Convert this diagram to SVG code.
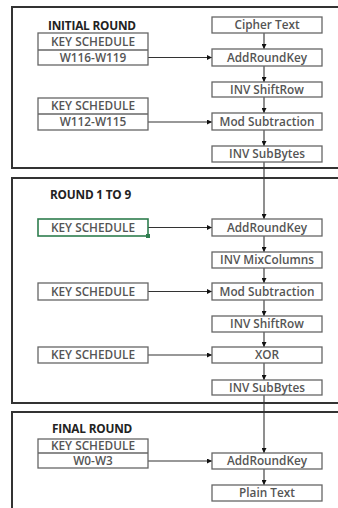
<svg xmlns="http://www.w3.org/2000/svg" width="338" height="508" viewBox="0 0 338 508">
<defs>
<style>
.frame{fill:none;stroke:#333;stroke-width:2}
.box{fill:#fff;stroke:#666;stroke-width:1.3}
.txt{font-family:"Open Sans","Liberation Sans",sans-serif;font-size:11.8px;font-weight:600;fill:#555;text-anchor:middle}
.title{font-family:"Open Sans","Liberation Sans",sans-serif;font-size:11.8px;font-weight:700;fill:#222;letter-spacing:-0.2px}
.conn{fill:none;stroke:#333;stroke-width:1.1}
</style>
<marker id="ah" viewBox="0 0 6 6" refX="6" refY="3" markerWidth="5" markerHeight="5" orient="auto" markerUnits="userSpaceOnUse">
<path d="M0,0 L6,3 L0,6 Z" fill="#111"/>
</marker>
</defs>
<rect width="338" height="508" fill="#fff"/>
<g id="frames">
<path class="frame" d="M345,7 H12 V168 H345"/>
<path class="frame" d="M345,178 H12 V403 H345"/>
<path class="frame" d="M345,412 H12 V515"/>
</g>
<g id="titles">
<text class="title" x="48" y="30">INITIAL ROUND</text>
<text class="title" x="50" y="199">ROUND 1 TO 9</text>
<text class="title" x="52" y="433">FINAL ROUND</text>
</g>
<g id="connectors">
<line class="conn" x1="264" y1="33" x2="264" y2="49" marker-end="url(#ah)"/>
<line class="conn" x1="264" y1="66" x2="264" y2="82" marker-end="url(#ah)"/>
<line class="conn" x1="264" y1="97" x2="264" y2="113" marker-end="url(#ah)"/>
<line class="conn" x1="264" y1="130" x2="264" y2="146" marker-end="url(#ah)"/>
<line class="conn" x1="264" y1="162" x2="264" y2="219" marker-end="url(#ah)"/>
<line class="conn" x1="264" y1="236" x2="264" y2="252" marker-end="url(#ah)"/>
<line class="conn" x1="264" y1="268" x2="264" y2="283" marker-end="url(#ah)"/>
<line class="conn" x1="264" y1="300" x2="264" y2="316" marker-end="url(#ah)"/>
<line class="conn" x1="264" y1="332" x2="264" y2="347" marker-end="url(#ah)"/>
<line class="conn" x1="264" y1="363" x2="264" y2="380" marker-end="url(#ah)"/>
<line class="conn" x1="264" y1="395" x2="264" y2="453" marker-end="url(#ah)"/>
<line class="conn" x1="264" y1="469" x2="264" y2="485" marker-end="url(#ah)"/>
<line class="conn" x1="148" y1="57.5" x2="212" y2="57.5" marker-end="url(#ah)"/>
<line class="conn" x1="148" y1="122" x2="212" y2="122" marker-end="url(#ah)"/>
<line class="conn" x1="148" y1="227.5" x2="212" y2="227.5" marker-end="url(#ah)"/>
<line class="conn" x1="148" y1="291.5" x2="212" y2="291.5" marker-end="url(#ah)"/>
<line class="conn" x1="148" y1="355" x2="212" y2="355" marker-end="url(#ah)"/>
<line class="conn" x1="148" y1="461" x2="212" y2="461" marker-end="url(#ah)"/>
</g>
<g id="cipher-text"><rect class="box" x="212" y="17" width="110" height="16"/><text class="txt" x="267" y="29.2">Cipher Text</text></g>
<g id="addroundkey-1"><rect class="box" x="212" y="49" width="110" height="17"/><text class="txt" x="267" y="61.7">AddRoundKey</text></g>
<g id="inv-shiftrow-1"><rect class="box" x="212" y="82" width="110" height="15"/><text class="txt" x="267" y="93.7">INV ShiftRow</text></g>
<g id="mod-subtraction-1"><rect class="box" x="212" y="113" width="110" height="17"/><text class="txt" x="267" y="125.7">Mod Subtraction</text></g>
<g id="inv-subbytes-1"><rect class="box" x="212" y="146" width="110" height="16"/><text class="txt" x="267" y="158.2">INV SubBytes</text></g>
<g id="key-1"><rect class="box" x="38" y="33" width="110" height="32"/><line class="box" x1="38" y1="50" x2="148" y2="50"/><text class="txt" x="93" y="45.7">KEY SCHEDULE</text><text class="txt" x="93" y="61.7">W116-W119</text></g>
<g id="key-2"><rect class="box" x="38" y="98" width="110" height="32"/><line class="box" x1="38" y1="114" x2="148" y2="114"/><text class="txt" x="93" y="110.2">KEY SCHEDULE</text><text class="txt" x="93" y="126.2">W112-W115</text></g>
<g id="key-3"><rect x="38" y="219" width="110" height="17" fill="#fff" stroke="#2e7d4e" stroke-width="1.6"/><rect x="146" y="234" width="4" height="4" fill="#2e7d4e"/><text class="txt" x="93" y="231.7">KEY SCHEDULE</text></g>
<g id="addroundkey-2"><rect class="box" x="212" y="219" width="110" height="17"/><text class="txt" x="267" y="231.7">AddRoundKey</text></g>
<g id="inv-mixcolumns"><rect class="box" x="212" y="252" width="110" height="16"/><text class="txt" x="267" y="264.2">INV MixColumns</text></g>
<g id="key-4"><rect class="box" x="38" y="283" width="110" height="17"/><text class="txt" x="93" y="295.7">KEY SCHEDULE</text></g>
<g id="mod-subtraction-2"><rect class="box" x="212" y="283" width="110" height="17"/><text class="txt" x="267" y="295.7">Mod Subtraction</text></g>
<g id="inv-shiftrow-2"><rect class="box" x="212" y="316" width="110" height="16"/><text class="txt" x="267" y="328.2">INV ShiftRow</text></g>
<g id="key-5"><rect class="box" x="38" y="347" width="110" height="16"/><text class="txt" x="93" y="359.2">KEY SCHEDULE</text></g>
<g id="xor"><rect class="box" x="212" y="347" width="110" height="16"/><text class="txt" x="267" y="359.2">XOR</text></g>
<g id="inv-subbytes-2"><rect class="box" x="212" y="380" width="110" height="15"/><text class="txt" x="267" y="391.7">INV SubBytes</text></g>
<g id="key-6"><rect class="box" x="38" y="439" width="110" height="29"/><line class="box" x1="38" y1="453" x2="148" y2="453"/><text class="txt" x="93" y="450.2">KEY SCHEDULE</text><text class="txt" x="93" y="464.7">W0-W3</text></g>
<g id="addroundkey-3"><rect class="box" x="212" y="453" width="110" height="16"/><text class="txt" x="267" y="465.2">AddRoundKey</text></g>
<g id="plain-text"><rect class="box" x="212" y="485" width="110" height="16"/><text class="txt" x="267" y="497.2">Plain Text</text></g>
</svg>
